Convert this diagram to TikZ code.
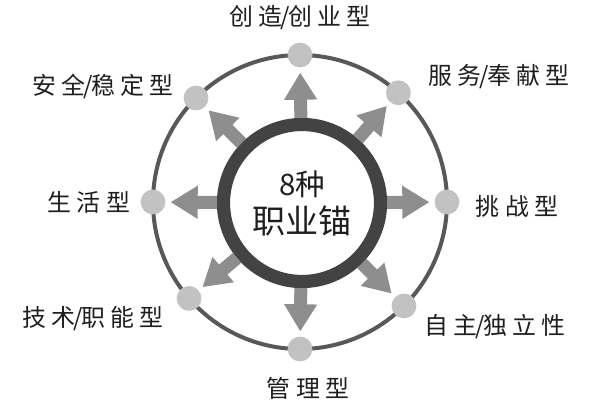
\documentclass[tikz,border=0pt]{standalone}
\usepackage{fontspec}
\usepackage{tikz}
\usetikzlibrary{positioning,arrows.meta}
\usepackage{xcolor}
\setmainfont{Noto Sans CJK SC}
\newfontfamily\anchorfont[LetterSpace=22]{Noto Sans CJK SC}
\newcommand{\slashsep}{\kern-1.5pt/\kern-1.5pt}
\definecolor{ringgray}{HTML}{434343}
\definecolor{rimgray}{HTML}{585858}
\definecolor{arrowgray}{HTML}{8E8E8E}
\definecolor{dotgray}{HTML}{C2C2C2}
\definecolor{inkgray}{HTML}{1E1E1E}

\begin{document}
\begin{tikzpicture}[
    x=0.025cm, y=0.025cm,
    hub/.style={circle, draw=ringgray, line width=0.33cm, minimum size=3.925cm, inner sep=0pt, align=center, text=inkgray, font=\fontsize{23.5}{27}\selectfont},
    dot/.style={circle, fill=dotgray, minimum size=0.62cm, inner sep=0pt},
    anchorlabel/.style={inner sep=0pt, text=inkgray, font=\anchorfont\fontsize{17}{20}\selectfont},
    rim/.style={draw=rimgray, line width=0.1cm},
    line/.style={-{Triangle[width=0.78cm,length=0.68cm]}, line width=0.325cm, draw=arrowgray, shorten >=0.12cm}
]
\useasboundingbox (0,0) rectangle (600,400);
\coordinate (centre) at (300,198);
\draw[rim] (centre) circle[radius=147];

\node[dot] (dtop) at ([shift={(90:147)}]centre) {};
\node[dot] (dtr) at ([shift={(48:147)}]centre) {};
\node[dot] (dright) at ([shift={(0:147)}]centre) {};
\node[dot] (dbr) at ([shift={(-45:147)}]centre) {};
\node[dot] (dbot) at ([shift={(-90:147)}]centre) {};
\node[dot] (dbl) at ([shift={(-139:147)}]centre) {};
\node[dot] (dleft) at ([shift={(180:147)}]centre) {};
\node[dot] (dtl) at ([shift={(135:147)}]centre) {};

\node[hub] (hub) at (302,197) {{\fontsize{21}{27}\selectfont 8种}\\职业锚};

\node[anchorlabel, above=0.3cm of dtop] (ltop) {创造\slashsep 创业型};
\node[anchorlabel] (ltr) at (499,323) {服务\slashsep 奉献型};
\node[anchorlabel, right=0.4cm of dright, yshift=-0.12cm] (lright) {挑战型};
\node[anchorlabel] (lbr) at (495,73) {自主\slashsep 独立性};
\node[anchorlabel, below=0.38cm of dbot, xshift=0.2cm] (lbot) {管理型};
\node[anchorlabel] (lbl) at (93,81) {技术\slashsep 职能型};
\node[anchorlabel, left=0.25cm of dleft] (lleft) {生活型};
\node[anchorlabel] (ltl) at (103,314) {安全\slashsep 稳定型};

\draw[line] (hub) -- (dtop);
\draw[line] (hub) -- (dtr);
\draw[line] (hub) -- (dright);
\draw[line] (hub) -- (dbr);
\draw[line] (hub) -- (dbot);
\draw[line] (hub) -- (dbl);
\draw[line] (hub) -- (dleft);
\draw[line] (hub) -- (dtl);
\end{tikzpicture}
\end{document}
